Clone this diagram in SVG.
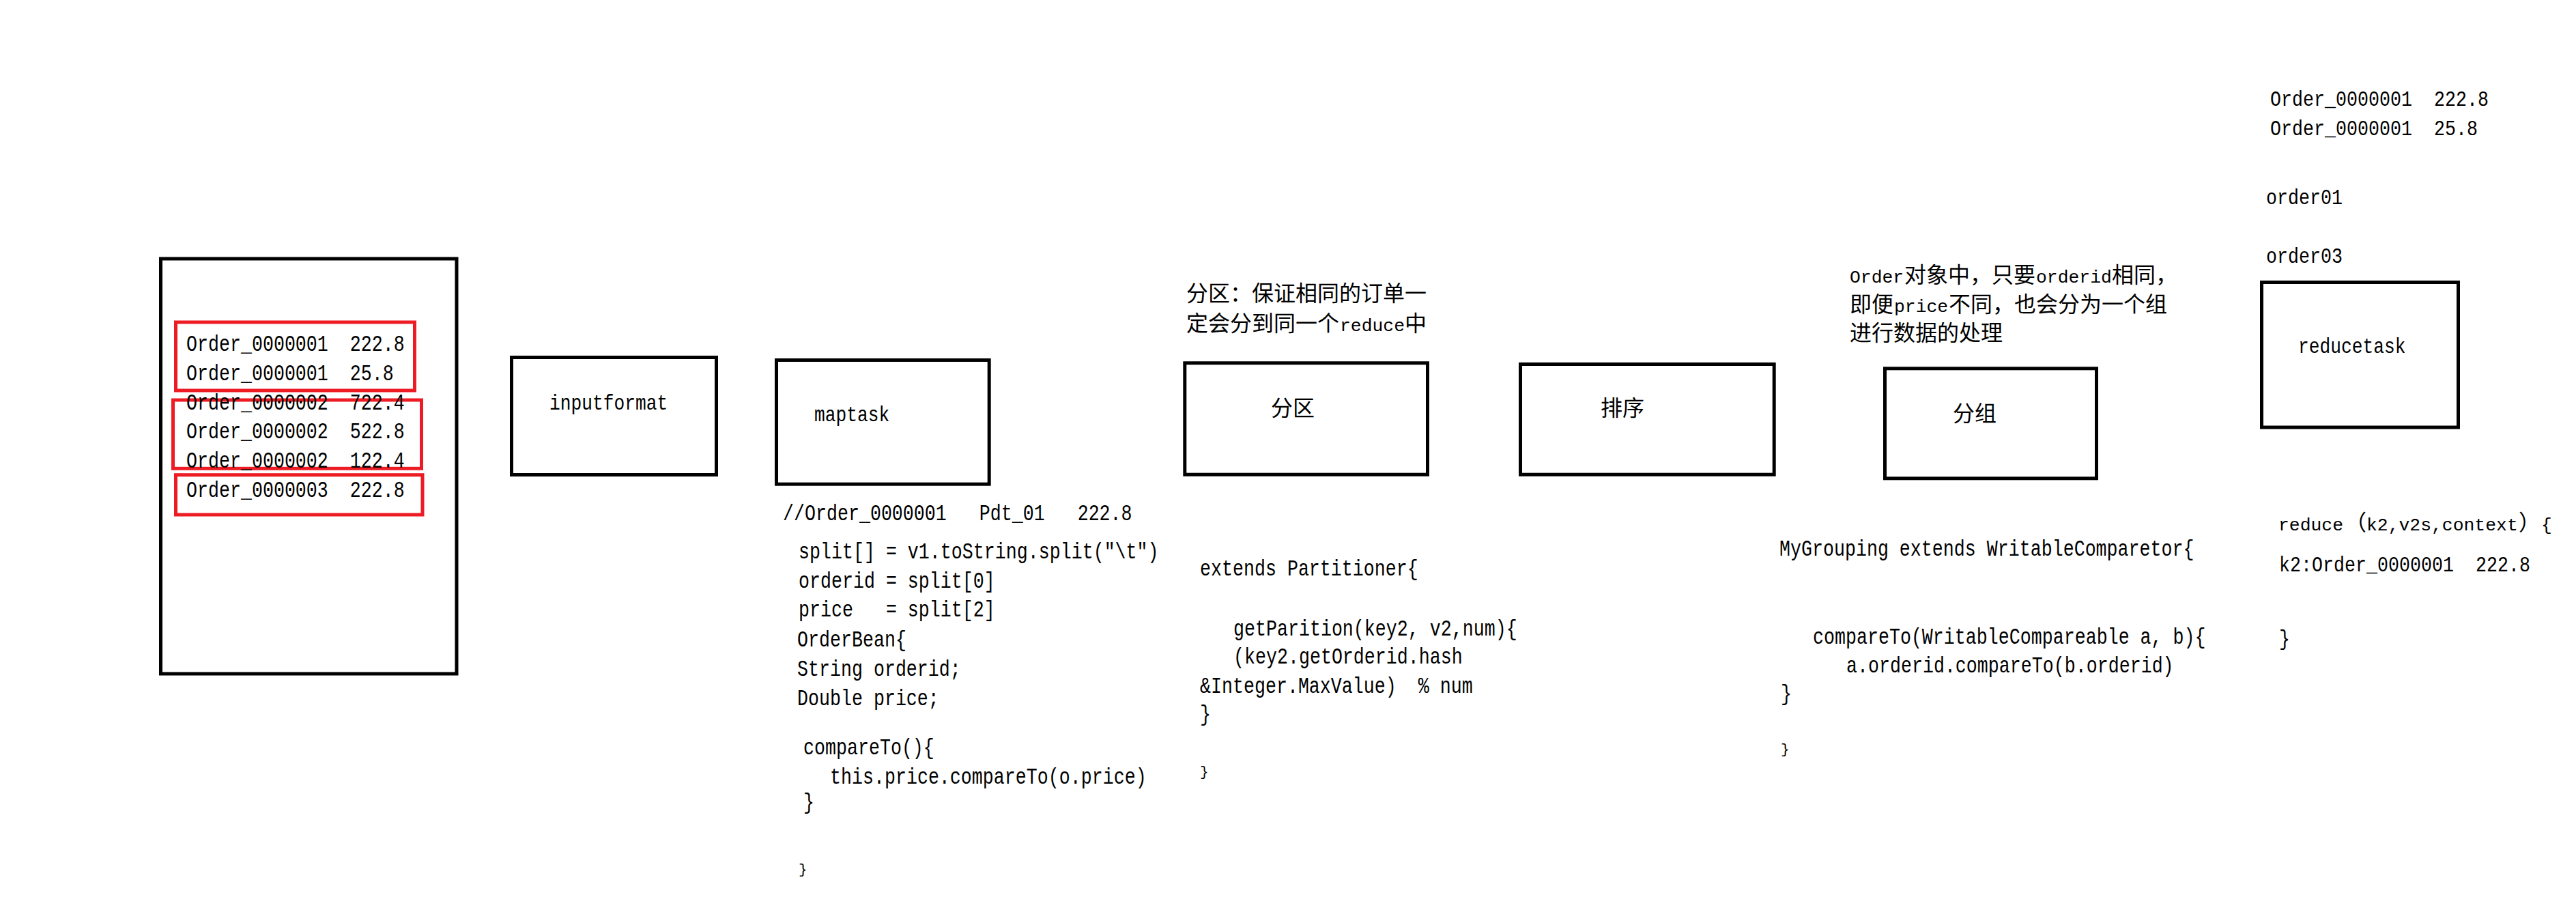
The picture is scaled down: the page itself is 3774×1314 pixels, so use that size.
<svg xmlns="http://www.w3.org/2000/svg" width="3774" height="1314" viewBox="0 0 3774 1314">
<style>
.box{fill:none;stroke:#000;stroke-width:5}
.red{fill:none;stroke:#ED1C24;stroke-width:5}
text{fill:#000;white-space:pre}
.data{font-family:"Liberation Mono",monospace;font-size:31px}
.lbl{font-family:"Liberation Mono",monospace;font-size:32px}
.code{font-family:"Liberation Mono",monospace;font-size:34px}
.brace{font-family:"Liberation Mono",monospace;font-size:21px}
.mix{font-family:"Liberation Mono",monospace;font-size:26.4px}
.cjk{font-family:"Noto Sans CJK SC",sans-serif;font-size:32px}
</style>
<rect width="3774" height="1314" fill="#fff"/>
<g id="connectors"></g>

<g id="input-data">
<rect class="box" x="235.5" y="379" width="433.5" height="608"/>
<rect class="red" x="257.5" y="472" width="350" height="100"/>
<rect class="red" x="253.5" y="586" width="364" height="100.3"/>
<rect class="red" x="257.5" y="695.7" width="361.5" height="58.3"/>
<text xml:space="preserve" class="code" transform="translate(273,514) scale(0.784,1)">Order_0000001  222.8</text>
<text xml:space="preserve" class="code" transform="translate(273,557) scale(0.784,1)">Order_0000001  25.8</text>
<text xml:space="preserve" class="code" transform="translate(273,600) scale(0.784,1)">Order_0000002  722.4</text>
<text xml:space="preserve" class="code" transform="translate(273,642) scale(0.784,1)">Order_0000002  522.8</text>
<text xml:space="preserve" class="code" transform="translate(273,685) scale(0.784,1)">Order_0000002  122.4</text>
<text xml:space="preserve" class="code" transform="translate(273,728) scale(0.784,1)">Order_0000003  222.8</text>
</g>

<g id="inputformat">
<rect class="box" x="749.5" y="523.5" width="300" height="172"/>
<text class="lbl" transform="translate(805,600) scale(0.82,1)">inputformat</text>
</g>

<g id="maptask">
<rect class="box" x="1137.5" y="527.5" width="311.7" height="181.7"/>
<text class="lbl" transform="translate(1193,617) scale(0.82,1)">maptask</text>
</g>

<g id="maptask-code">
<text xml:space="preserve" class="code" transform="translate(1147,762) scale(0.784,1)">//Order_0000001   Pdt_01   222.8</text>
<text xml:space="preserve" class="code" transform="translate(1170,818) scale(0.784,1)">split[] = v1.toString.split("\t")</text>
<text xml:space="preserve" class="code" transform="translate(1170,861) scale(0.784,1)">orderid = split[0]</text>
<text xml:space="preserve" class="code" transform="translate(1170,903) scale(0.784,1)">price   = split[2]</text>
<text class="code" transform="translate(1168,947) scale(0.784,1)">OrderBean{</text>
<text class="code" transform="translate(1168,990) scale(0.784,1)">String orderid;</text>
<text class="code" transform="translate(1168,1033) scale(0.784,1)">Double price;</text>
<text class="code" transform="translate(1177,1105) scale(0.784,1)">compareTo(){</text>
<text class="code" transform="translate(1216,1148) scale(0.784,1)">this.price.compareTo(o.price)</text>
<text class="code" transform="translate(1177,1185) scale(0.784,1)">}</text>
<text class="brace" x="1170" y="1280">}</text>
</g>

<g id="partition-note">
<text class="cjk" x="1738" y="441">分区：保证相同的订单一</text>
<text y="485"><tspan class="cjk" x="1738">定会分到同一个</tspan><tspan class="mix" x="1963">reduce</tspan><tspan class="cjk" x="2058">中</tspan></text>
</g>

<g id="partition">
<rect class="box" x="1735.8" y="531.8" width="355.7" height="163.4"/>
<text class="cjk" x="1862" y="609">分区</text>
</g>

<g id="partition-code">
<text class="code" transform="translate(1758,843) scale(0.784,1)">extends Partitioner{</text>
<text xml:space="preserve" class="code" transform="translate(1807,931) scale(0.784,1)">getParition(key2, v2,num){</text>
<text class="code" transform="translate(1807,972) scale(0.784,1)">(key2.getOrderid.hash</text>
<text xml:space="preserve" class="code" transform="translate(1758,1015) scale(0.784,1)">&amp;Integer.MaxValue)  % num</text>
<text class="code" transform="translate(1758,1056) scale(0.784,1)">}</text>
<text class="brace" x="1758" y="1137">}</text>
</g>

<g id="sort">
<rect class="box" x="2227.5" y="533.5" width="371.7" height="161.7"/>
<text class="cjk" x="2345" y="609">排序</text>
</g>

<g id="grouping-note">
<text y="414"><tspan class="mix" x="2710">Order</tspan><tspan class="cjk" x="2790">对象中，</tspan><tspan class="cjk" x="2918">只要</tspan><tspan class="mix" x="2983">orderid</tspan><tspan class="cjk" x="3094">相同，</tspan></text>
<text y="457"><tspan class="cjk" x="2710">即便</tspan><tspan class="mix" x="2775">price</tspan><tspan class="cjk" x="2855">不同，也会分为一个组</tspan></text>
<text class="cjk" x="2710" y="499">进行数据的处理</text>
</g>

<g id="grouping">
<rect class="box" x="2761.5" y="539.8" width="310" height="161"/>
<text class="cjk" x="2861" y="617">分组</text>
</g>

<g id="grouping-code">
<text class="code" transform="translate(2607,814) scale(0.784,1)">MyGrouping extends WritableComparetor{</text>
<text class="code" transform="translate(2656,943) scale(0.784,1)">compareTo(WritableCompareable a, b){</text>
<text class="code" transform="translate(2705,985) scale(0.784,1)">a.orderid.compareTo(b.orderid)</text>
<text class="code" transform="translate(2609,1026) scale(0.784,1)">}</text>
<text class="brace" x="2609" y="1104">}</text>
</g>

<g id="reduce-input">
<text xml:space="preserve" class="data" transform="translate(3326,155) scale(0.86,1)">Order_0000001  222.8</text>
<text xml:space="preserve" class="data" transform="translate(3326,198) scale(0.86,1)">Order_0000001  25.8</text>
<text class="data" transform="translate(3320,299) scale(0.86,1)">order01</text>
<text class="data" transform="translate(3320,385) scale(0.86,1)">order03</text>
</g>

<g id="reducetask">
<rect class="box" x="3313.5" y="413.5" width="288" height="212.5"/>
<text class="lbl" transform="translate(3367,517) scale(0.82,1)">reducetask</text>
</g>

<g id="reduce-code">
<text y="777"><tspan class="mix" x="3338">reduce</tspan><tspan class="cjk" x="3435">（</tspan><tspan class="mix" x="3467">k2,v2s,context</tspan><tspan class="cjk" x="3690">）</tspan><tspan class="mix" x="3723">{</tspan></text>
<text xml:space="preserve" class="data" transform="translate(3339,837) scale(0.86,1)">k2:Order_0000001  222.8</text>
<text class="data" transform="translate(3339,945) scale(0.86,1)">}</text>
</g>
</svg>
